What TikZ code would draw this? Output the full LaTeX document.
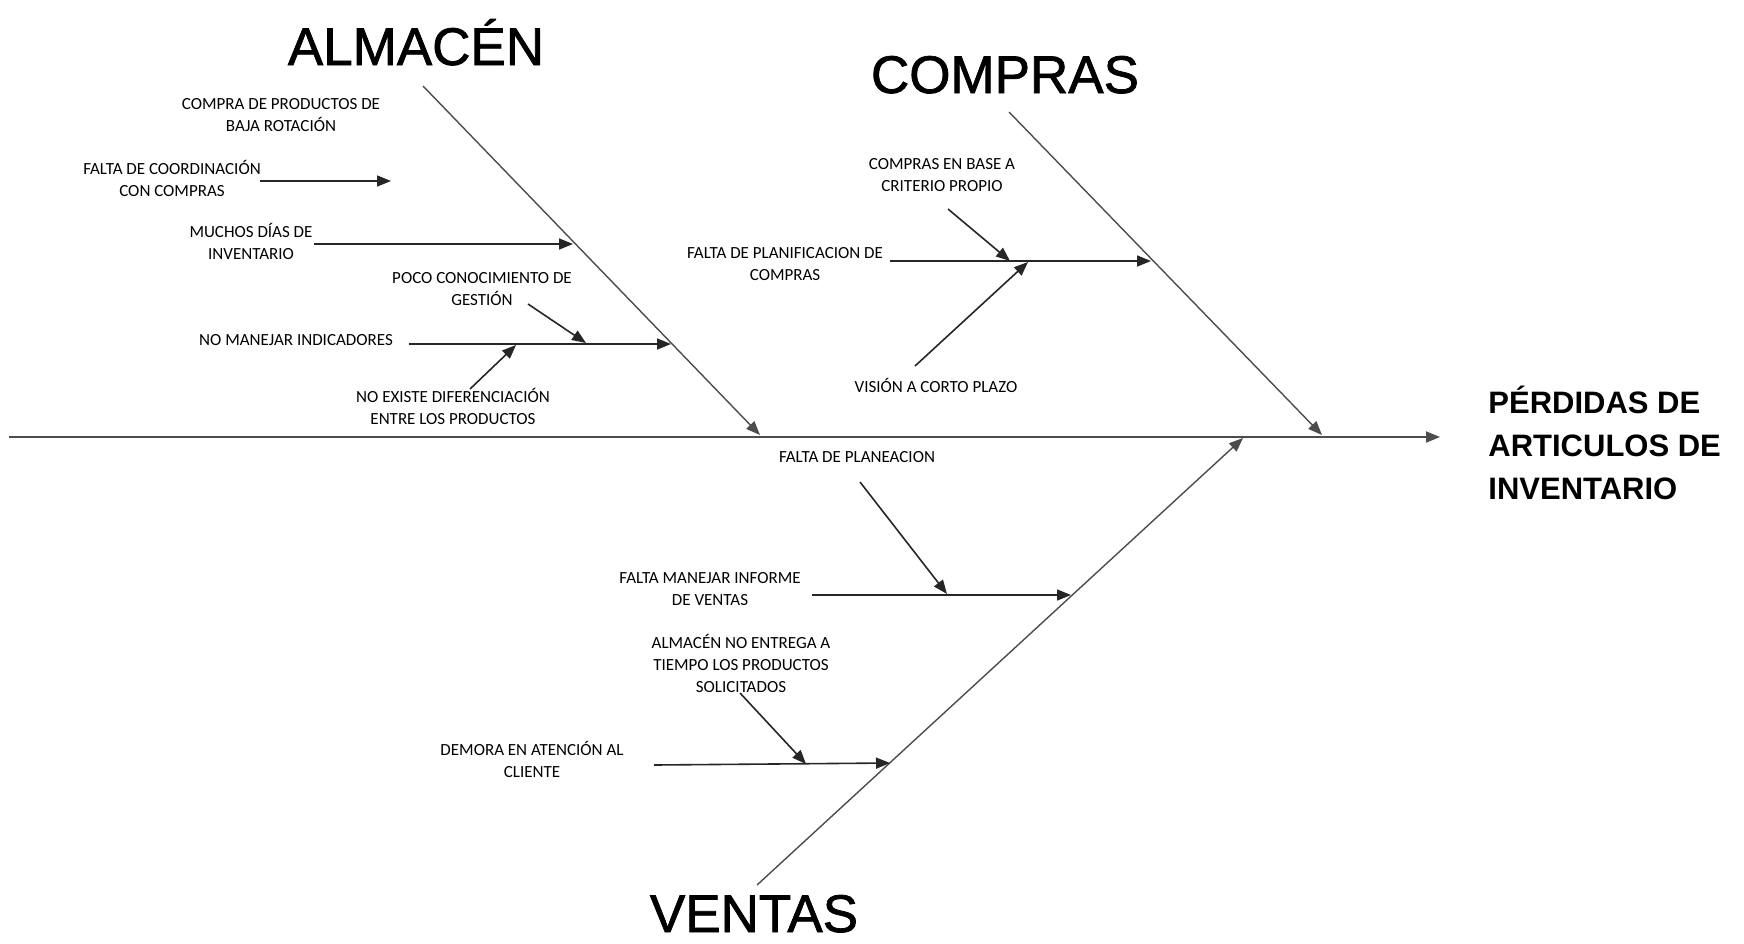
\documentclass[tikz,border=0pt]{standalone}
\usepackage{fontspec}
\setmainfont{Carlito}
\newfontfamily\arialfont{Liberation Sans}
\newfontfamily\catfont{Liberation Sans}[FakeBold=1.4]
\usetikzlibrary{arrows.meta}

\begin{document}
\begin{tikzpicture}[x=0.5pt, y=-0.5pt,
    causa/.style={align=center, inner sep=0pt, font=\fontsize{8.5}{11}\selectfont},
    categoria/.style={inner sep=0pt, anchor=base, font=\catfont\fontsize{26.5}{30}\selectfont},
    flecha/.style={draw=black!85, line width=0.8pt, -{Triangle[length=7pt,width=5.5pt]}},
    hueso/.style={draw=black!70, line width=0.7pt, -{Triangle[length=7pt,width=5.5pt]}}]
      \useasboundingbox (0,0) rectangle (1744,943);

      % espina y efecto
      \coordinate (cola) at (9,437);
      \coordinate (cabeza) at (1440,437);
      \draw[hueso, line width=1pt] (cola) -- (cabeza);
      \node[anchor=north west, inner sep=0pt, align=left, font=\arialfont\bfseries\fontsize{15.5}{21.3}\selectfont] (efecto) at (1488,386) {PÉRDIDAS DE\\ARTICULOS DE\\INVENTARIO};

      % categorias
      \node[categoria] (alm) at (416,65) {ALMACÉN};
      \node[categoria] (comp) at (1005,93) {COMPRAS};
      \node[categoria] (vent) at (754,932) {VENTAS};
      \coordinate (a1) at (423,86);   \coordinate (a2) at (760,435);
      \coordinate (c1) at (1009,112); \coordinate (c2) at (1322,435);
      \coordinate (v1) at (757,885);  \coordinate (v2) at (1243,438);
      \draw[hueso] (a1) -- (a2);
      \draw[hueso] (c1) -- (c2);
      \draw[hueso] (v1) -- (v2);

      % causas de almacen
      \node[causa] (baja) at (281,115) {COMPRA DE PRODUCTOS DE\\BAJA ROTACIÓN};
      \node[causa] (coord) at (172,178) {FALTA DE COORDINACIÓN\\CON COMPRAS};
      \coordinate (coordA) at (260,181); \coordinate (coordB) at (391,181);
      \draw[flecha] (coordA) -- (coordB);
      \node[causa] (dias) at (251,241) {MUCHOS DÍAS DE\\INVENTARIO};
      \coordinate (diasA) at (314,244); \coordinate (diasB) at (573,244);
      \draw[flecha] (diasA) -- (diasB);
      \node[causa] (gestion) at (482,289) {POCO CONOCIMIENTO DE\\GESTIÓN};
      \node[causa] (indic) at (296,340) {NO MANEJAR INDICADORES};
      \coordinate (indicA) at (409,344); \coordinate (indicB) at (671,344);
      \draw[flecha] (indicA) -- (indicB);
      \coordinate (gestA) at (528,304); \coordinate (gestB) at (586,343);
      \draw[flecha] (gestA) -- (gestB);
      \node[causa] (difer) at (453,406) {NO EXISTE DIFERENCIACIÓN\\ENTRE LOS PRODUCTOS};
      \coordinate (difA) at (470,389); \coordinate (difB) at (516,345);
      \draw[flecha] (difA) -- (difB);

      % causas de compras
      \node[causa] (planif) at (785,264) {FALTA DE PLANIFICACION DE\\COMPRAS};
      \coordinate (planA) at (890,261); \coordinate (planB) at (1151,261);
      \draw[flecha] (planA) -- (planB);
      \node[causa] (criterio) at (942,175) {COMPRAS EN BASE A\\CRITERIO PROPIO};
      \coordinate (critA) at (948,209); \coordinate (critB) at (1010,261);
      \draw[flecha] (critA) -- (critB);
      \node[causa] (vision) at (936,385) {VISIÓN A CORTO PLAZO};
      \coordinate (visA) at (915,366); \coordinate (visB) at (1028,262);
      \draw[flecha] (visA) -- (visB);

      % causas de ventas
      \node[causa] (planea) at (857,457) {FALTA DE PLANEACION};
      \node[causa] (informe) at (710,589) {FALTA MANEJAR INFORME\\DE VENTAS};
      \coordinate (infA) at (812,595); \coordinate (infB) at (1071,595);
      \draw[flecha] (infA) -- (infB);
      \coordinate (plA) at (860,482); \coordinate (plB) at (947,594);
      \draw[flecha] (plA) -- (plB);
      \node[causa] (entrega) at (741,663) {ALMACÉN NO ENTREGA A\\TIEMPO LOS PRODUCTOS\\SOLICITADOS};
      \node[causa] (demora) at (532,759) {DEMORA EN ATENCIÓN AL\\CLIENTE};
      \coordinate (demA) at (654,765); \coordinate (demB) at (890,763);
      \draw[flecha] (demA) -- (demB);
      \coordinate (entA) at (740,693); \coordinate (entB) at (806,764);
      \draw[flecha] (entA) -- (entB);
\end{tikzpicture}
\end{document}
